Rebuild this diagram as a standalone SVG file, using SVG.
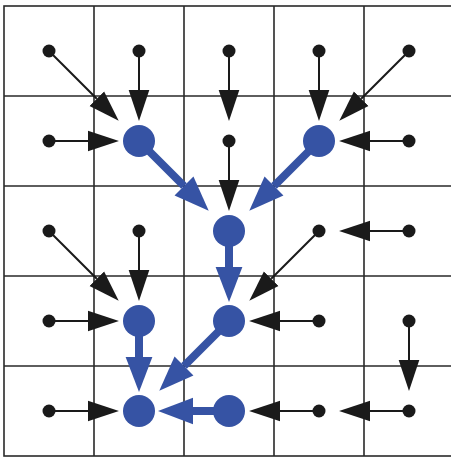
<svg xmlns="http://www.w3.org/2000/svg" width="451" height="457" viewBox="0 0 451 457">
<style>
.grid{fill:none;stroke:#2a2a2a;stroke-width:1.6}
.bk{stroke:#1a1a1a;stroke-width:2;fill:none;marker-end:url(#hb)}
.bl{stroke:#3653a4;stroke-width:8;fill:none;marker-end:url(#hl)}
.dot{fill:#1a1a1a}
.big{fill:#3653a4}
</style>
<defs>
<marker id="hb" markerUnits="userSpaceOnUse" markerWidth="32" markerHeight="24" viewBox="0 -11 31 22" refX="0" refY="0" orient="auto"><path d="M0,-10 L30,0 L0,10 z" fill="#1a1a1a"/></marker>
<marker id="hl" markerUnits="userSpaceOnUse" markerWidth="36" markerHeight="30" viewBox="0 -14 35 28" refX="0" refY="0" orient="auto"><path d="M0,-13 L34,0 L0,13 z" fill="#3653a4"/></marker>
</defs>
<rect width="451" height="457" fill="#fff"/>
<g id="grid">
<rect class="grid" x="4" y="6" width="450" height="450"/>
<path class="grid" d="M94,6V456M184,6V456M274,6V456M364,6V456M4,96H454M4,186H454M4,276H454M4,366H454"/>
</g>
<g id="connectors">
<path class="bk" d="M139,51L139,90"/>
<path class="bk" d="M229,51L229,90"/>
<path class="bk" d="M319,51L319,90"/>
<path class="bk" d="M49,141L88,141"/>
<path class="bk" d="M229,141L229,180"/>
<path class="bk" d="M409,141L370,141"/>
<path class="bk" d="M139,231L139,270"/>
<path class="bk" d="M409,231L370,231"/>
<path class="bk" d="M49,321L88,321"/>
<path class="bk" d="M319,321L280,321"/>
<path class="bk" d="M409,321L409,360"/>
<path class="bk" d="M49,411L88,411"/>
<path class="bk" d="M319,411L280,411"/>
<path class="bk" d="M409,411L370,411"/>
<path class="bk" d="M49,51L96.8,98.8"/>
<path class="bk" d="M409,51L361.2,98.8"/>
<path class="bk" d="M49,231L96.8,278.8"/>
<path class="bk" d="M319,231L271.2,278.8"/>
<path class="bl" d="M229,231L229,267"/>
<path class="bl" d="M139,321L139,357"/>
<path class="bl" d="M229,411L193,411"/>
<path class="bl" d="M139,141L184,186"/>
<path class="bl" d="M319,141L274,186"/>
<path class="bl" d="M229,321L184,366"/>
</g>
<g id="n00"><circle class="dot" cx="49" cy="51" r="6.5"/></g>
<g id="n10"><circle class="dot" cx="139" cy="51" r="6.5"/></g>
<g id="n20"><circle class="dot" cx="229" cy="51" r="6.5"/></g>
<g id="n30"><circle class="dot" cx="319" cy="51" r="6.5"/></g>
<g id="n40"><circle class="dot" cx="409" cy="51" r="6.5"/></g>
<g id="n01"><circle class="dot" cx="49" cy="141" r="6.5"/></g>
<g id="n11"><circle class="big" cx="139" cy="141" r="16"/></g>
<g id="n21"><circle class="dot" cx="229" cy="141" r="6.5"/></g>
<g id="n31"><circle class="big" cx="319" cy="141" r="16"/></g>
<g id="n41"><circle class="dot" cx="409" cy="141" r="6.5"/></g>
<g id="n02"><circle class="dot" cx="49" cy="231" r="6.5"/></g>
<g id="n12"><circle class="dot" cx="139" cy="231" r="6.5"/></g>
<g id="n22"><circle class="big" cx="229" cy="231" r="16"/></g>
<g id="n32"><circle class="dot" cx="319" cy="231" r="6.5"/></g>
<g id="n42"><circle class="dot" cx="409" cy="231" r="6.5"/></g>
<g id="n03"><circle class="dot" cx="49" cy="321" r="6.5"/></g>
<g id="n13"><circle class="big" cx="139" cy="321" r="16"/></g>
<g id="n23"><circle class="big" cx="229" cy="321" r="16"/></g>
<g id="n33"><circle class="dot" cx="319" cy="321" r="6.5"/></g>
<g id="n43"><circle class="dot" cx="409" cy="321" r="6.5"/></g>
<g id="n04"><circle class="dot" cx="49" cy="411" r="6.5"/></g>
<g id="n14"><circle class="big" cx="139" cy="411" r="16"/></g>
<g id="n24"><circle class="big" cx="229" cy="411" r="16"/></g>
<g id="n34"><circle class="dot" cx="319" cy="411" r="6.5"/></g>
<g id="n44"><circle class="dot" cx="409" cy="411" r="6.5"/></g>
</svg>
